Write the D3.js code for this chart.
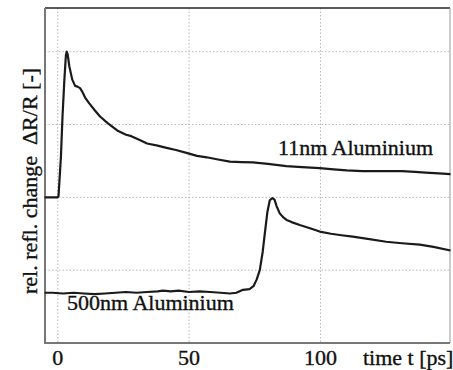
<!DOCTYPE html>
<html><head><meta charset="utf-8">
<script src="https://cdn.jsdelivr.net/npm/d3@7"></script>
<style>body{margin:0;background:#fff}svg{display:block}text{font-family:"Liberation Serif","Times New Roman",serif;fill:#111;stroke:#111;stroke-width:0.35px}</style>
</head><body><div id="c"></div>
<script>
const xTicks = [0, 50, 100];
const xTickLabels = ["0", "50", "100"];
const yGrid = [1, 2, 3, 4];
const seriesNames = ["11nm Aluminium", "500nm Aluminium"];
const thinT = [-5,0,0.3,1.2,1.8,2.5,3.1,3.4,3.8,4.4,5.5,6.6,7.5,8.5,9.5,10.4,12,14,16.1,19,23,26,28,31,34,38,41.4,45,49,53,56.7,61,65.5,70,74.3,80,87,93,99.7,105,110,116,120,125,131,136,140,145,149.5];
const thinV = [2.0,2.0,2.02,2.55,3.1,3.6,3.95,4.0,3.96,3.8,3.62,3.53,3.52,3.50,3.44,3.37,3.29,3.2,3.11,3.02,2.91,2.86,2.84,2.79,2.74,2.71,2.68,2.65,2.61,2.57,2.55,2.52,2.49,2.485,2.48,2.46,2.43,2.415,2.40,2.385,2.37,2.36,2.36,2.36,2.36,2.35,2.34,2.33,2.32];
const thickT = [-5,-2,2,6,10,14,18,22,26,30,34,38,40,43,46,50,54,58,62,65.5,68,70.5,73,74.5,75.7,76.9,78,78.8,79.8,80.7,81.7,82.5,83.3,84.5,86,87.1,89,92.1,96,99.7,104,108,112.3,118,125,131,137.8,143,149.5];
const thickV = [0.69,0.69,0.68,0.69,0.68,0.67,0.68,0.69,0.70,0.69,0.70,0.71,0.72,0.71,0.72,0.70,0.71,0.70,0.69,0.68,0.69,0.73,0.74,0.78,0.87,1.0,1.25,1.5,1.8,1.96,1.99,1.97,1.88,1.78,1.72,1.69,1.66,1.62,1.575,1.53,1.50,1.48,1.46,1.43,1.39,1.37,1.35,1.32,1.27];

const W = 453, H = 370;
const L = 45, R = 450, T = 8, B = 343;
const svg = d3.select("#c").append("svg").attr("width", W).attr("height", H);
const x = d3.scaleLinear().domain([-4.85, 149.3]).range([L, R]);
const y = d3.scaleLinear().domain([0, 4.6]).range([B, T]);

// grid
const g = svg.append("g");
g.selectAll("line.vx").data(xTicks).enter().append("line")
  .attr("x1", d => x(d)).attr("x2", d => x(d)).attr("y1", T).attr("y2", B)
  .attr("stroke", "#b8b8b8").attr("stroke-width", 1).attr("stroke-dasharray", "1.5,2");
g.selectAll("line.hy").data(yGrid).enter().append("line")
  .attr("x1", L).attr("x2", R).attr("y1", d => y(d)).attr("y2", d => y(d))
  .attr("stroke", "#b8b8b8").attr("stroke-width", 1).attr("stroke-dasharray", "1.5,2");

// frame
svg.append("line").attr("x1", L).attr("x2", R).attr("y1", T).attr("y2", T).attr("stroke", "#222").attr("stroke-width", 1.5);
svg.append("line").attr("x1", R).attr("x2", R).attr("y1", T).attr("y2", B).attr("stroke", "#999").attr("stroke-width", 1);
svg.append("line").attr("x1", L).attr("x2", L).attr("y1", T).attr("y2", B + 1).attr("stroke", "#777").attr("stroke-width", 2);
svg.append("line").attr("x1", L).attr("x2", R).attr("y1", B).attr("y2", B).attr("stroke", "#777").attr("stroke-width", 2);

// curves
const line = d3.line().x(d => x(d[0])).y(d => y(d[1]));
const s1 = thinT.map((t, i) => [t, thinV[i]]);
const s2 = thickT.map((t, i) => [t, thickV[i]]);
[s1, s2].forEach(s => svg.append("path").datum(s).attr("d", line)
  .attr("fill", "none").attr("stroke", "#1a1a1a").attr("stroke-width", 2.2).attr("stroke-linejoin", "round"));

// tick labels
svg.selectAll("text.xt").data(xTicks).enter().append("text")
  .attr("x", d => x(d)).attr("y", 365).attr("text-anchor", "middle")
  .attr("font-size", 22).text((d, i) => xTickLabels[i]);
svg.append("text").attr("x", 363).attr("y", 365).attr("font-size", 22).text("time t [ps]");

// series labels
svg.append("text").attr("x", 278).attr("y", 155).attr("font-size", 22).text(seriesNames[0]);
svg.append("text").attr("x", 67).attr("y", 310).attr("font-size", 22).text(seriesNames[1]);

// y label
svg.append("text").attr("transform", "translate(37,181) rotate(-90)")
  .attr("text-anchor", "middle").attr("font-size", 22)
  .style("white-space", "pre").text("rel. refl. change  \u0394R/R [-]");
</script></body></html>
